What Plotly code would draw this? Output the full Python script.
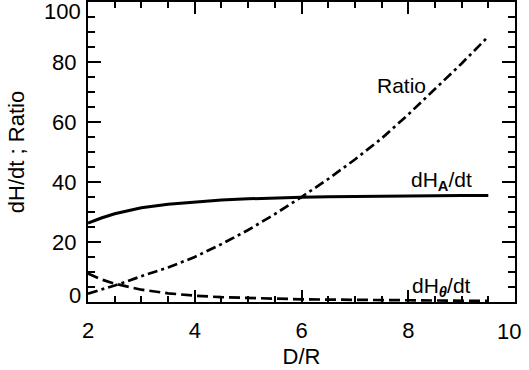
import plotly.graph_objects as go

# D/R sample positions
x_vals = [2.0, 2.25, 2.5, 2.75, 3.0, 3.5, 4.0, 4.5, 5.0, 5.5, 6.0, 6.5, 7.0, 7.5, 8.0, 8.5, 9.0, 9.5]
# dH_A/dt (solid)
dHA = [26.3, 28.0, 29.4, 30.5, 31.4, 32.6, 33.4, 34.0, 34.4, 34.7, 34.9, 35.05, 35.2, 35.3, 35.4, 35.45, 35.5, 35.5]
# dH_theta/dt (dashed)
dHT = [9.5, 7.5, 6.1, 5.0, 4.1, 2.9, 2.1, 1.6, 1.3, 1.1, 0.9, 0.8, 0.7, 0.6, 0.5, 0.45, 0.4, 0.35]
# Ratio (dash-dot)
ratio = [2.8, 4.1, 5.5, 7.0, 8.6, 11.5, 15.0, 19.3, 24.0, 29.3, 35.0, 41.0, 47.5, 54.5, 62.5, 71.0, 79.5, 88.5]

x_ticks = [2, 4, 6, 8, 10]
y_ticks = [0, 20, 40, 60, 80, 100]

FONT = "Liberation Sans"
TICKFONT = dict(family=FONT, size=22, color="black")

fig = go.Figure()
fig.add_trace(go.Scatter(x=x_vals, y=dHA, mode="lines",
                         line=dict(color="black", width=3)))
fig.add_trace(go.Scatter(x=x_vals, y=dHT, mode="lines",
                         line=dict(color="black", width=2.7, dash="11px,5px")))
fig.add_trace(go.Scatter(x=x_vals, y=ratio, mode="lines",
                         line=dict(color="black", width=2.7, dash="10px,4px,3px,4px")))

fig.add_annotation(x=7.88, y=72.3, text="Ratio", showarrow=False,
                   font=dict(family=FONT, size=21, color="black"))
fig.add_annotation(x=8.63, y=40.3, text="dH<sub><b>A</b></sub>/dt", showarrow=False,
                   font=dict(family=FONT, size=21, color="black"))
fig.add_annotation(x=8.63, y=5.0, text="dH<sub><b><i>θ</i></b></sub>/dt", showarrow=False,
                   font=dict(family=FONT, size=21, color="black"))

# end tick labels shifted inward (as in reference); inner ones drawn by the axes
fig.add_annotation(xref="paper", x=0, xanchor="right", xshift=-5, y=y_ticks[0], yshift=7,
                   text=str(y_ticks[0]), showarrow=False, font=TICKFONT)
fig.add_annotation(xref="paper", x=0, xanchor="right", xshift=-5, y=y_ticks[-1], yshift=-9,
                   text=str(y_ticks[-1]), showarrow=False, font=TICKFONT)
fig.add_annotation(x=x_ticks[-1], yref="paper", y=0, yanchor="middle", xshift=-6, yshift=-29,
                   text=str(x_ticks[-1]), showarrow=False, font=TICKFONT)

fig.update_layout(
    width=529, height=370,
    margin=dict(l=88, r=14, t=2, b=68),
    paper_bgcolor="white", plot_bgcolor="white",
    showlegend=False,
    font=dict(family=FONT, size=22, color="black"),
    xaxis=dict(range=[2, 10], tickvals=x_ticks[:-1], ticks="inside", ticklen=12, tickwidth=1.5,
               tickcolor="black", showline=True, linecolor="black", linewidth=2, mirror="ticks",
               showgrid=False, zeroline=False, ticklabelstandoff=8, automargin=False,
               minor=dict(dtick=0.5, ticks="inside", ticklen=6, tickwidth=1.5, tickcolor="black", showgrid=False),
               title=dict(text="D/R", font=dict(size=22), standoff=6)),
    yaxis=dict(range=[0, 100], tickvals=y_ticks[1:-1], ticks="inside", ticklen=13, tickwidth=1.5,
               tickcolor="black", showline=True, linecolor="black", linewidth=2, mirror="ticks",
               showgrid=False, zeroline=False, ticklabelstandoff=5, automargin=False,
               minor=dict(dtick=5, ticks="inside", ticklen=7, tickwidth=1.5, tickcolor="black", showgrid=False),
               title=dict(text="dH/dt ; Ratio", font=dict(size=22), standoff=21)),
)

fig.write_html("out.html", config={"displayModeBar": False},
               post_script="document.body.style.margin='0';")
